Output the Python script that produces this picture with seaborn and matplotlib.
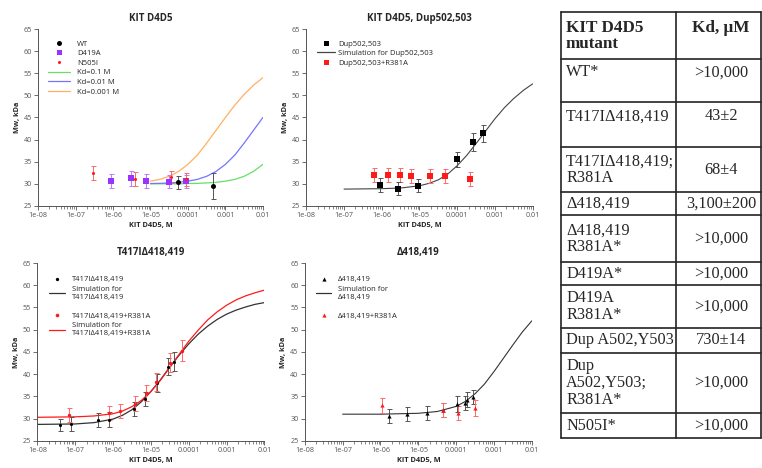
import numpy as np
import pandas as pd
import seaborn as sns
import matplotlib
matplotlib.use("Agg")
import matplotlib.pyplot as plt
from matplotlib.lines import Line2D
from matplotlib.ticker import LogLocator, NullFormatter

# axes ticks
x_ticks = [1e-8, 1e-7, 1e-6, 1e-5, 1e-4, 1e-3, 1e-2]
x_ticklabels = ["1e-08", "1e-07", "1e-06", "1e-05", "0.0001", "0.001", "0.01"]
y_ticks = [25, 30, 35, 40, 45, 50, 55, 60, 65]

# panel 1 : KIT D4D5 (WT, D419A, N505I + simulated Kd curves)
wt_conc = [5.5e-5, 4.6e-4]
wt_mw = [30.3, 29.5]
wt_err = [1.5, 3.0]
d419a_conc = [8.7e-7, 3.0e-6, 7.6e-6, 3.1e-5, 8.7e-5]
d419a_mw = [30.7, 31.2, 30.7, 30.5, 30.6]
d419a_err = [1.6, 1.6, 1.6, 1.5, 1.5]
n505i_conc = [3.0e-7, 3.9e-6, 3.5e-5, 8.7e-5]
n505i_mw = [32.4, 31.1, 31.5, 31.0]
n505i_err = [1.6, 1.6, 1.4, 1.5]
kd_sim_conc = [1e-5, 1.78e-5, 3.16e-5, 5.62e-5, 1e-4, 1.78e-4, 3.16e-4,
               5.62e-4, 1e-3, 1.78e-3, 3.16e-3, 5.62e-3, 1e-2]
kd_01_mw = [30.0, 30.0, 30.0, 30.0, 30.06, 30.1, 30.2, 30.33, 30.6, 31.0, 31.7, 32.8, 34.4]
kd_001_mw = [30.06, 30.1, 30.2, 30.33, 30.6, 31.0, 31.7, 32.8, 34.4, 36.5, 39.2, 42.1, 45.0]
kd_0001_mw = [30.6, 31.0, 31.7, 32.8, 34.4, 36.5, 39.2, 42.1, 45.0, 47.8, 50.2, 52.3, 54.0]

# panel 2 : Dup502,503
dup_conc = [8.9e-7, 2.7e-6, 9.2e-6, 9.6e-5, 2.6e-4, 4.9e-4]
dup_mw = [29.7, 28.9, 29.6, 35.5, 39.4, 41.4]
dup_err = [1.5, 1.5, 1.5, 1.8, 2.0, 2.0]
dup_r381a_conc = [6.1e-7, 1.5e-6, 3.1e-6, 6.1e-6, 1.85e-5, 4.7e-5, 2.2e-4]
dup_r381a_mw = [31.9, 32.0, 31.9, 31.8, 31.8, 31.8, 31.1]
dup_r381a_err = [1.6, 1.6, 1.6, 1.6, 1.6, 1.6, 1.6]
dup_sim_conc = [1e-7, 1e-6, 3.16e-6, 1e-5, 1.78e-5, 3.16e-5, 5.62e-5, 1e-4, 1.78e-4,
                3.16e-4, 5.62e-4, 1e-3, 1.78e-3, 3.16e-3, 5.62e-3, 1e-2]
dup_sim_mw = [28.8, 28.9, 29.05, 29.55, 30.1, 30.9, 32.2, 34.1, 36.4,
              39.1, 41.9, 44.7, 47.2, 49.3, 51.1, 52.6]

# panel 3 : T417IΔ418,419
t417_conc = [3.9e-8, 7.7e-8, 3.9e-7, 7.6e-7, 3.6e-6, 7.1e-6, 1.44e-5, 2.8e-5, 4.0e-5]
t417_mw = [28.6, 28.8, 29.7, 29.8, 32.2, 34.5, 38.0, 41.7, 42.8]
t417_err = [1.4, 1.5, 1.5, 1.6, 1.5, 1.6, 2.0, 2.0, 2.2]
t417_r381a_conc = [6.7e-8, 7.6e-7, 1.55e-6, 3.9e-6, 7.6e-6, 1.4e-5, 3.3e-5, 6.6e-5]
t417_r381a_mw = [30.8, 31.3, 31.8, 33.4, 35.7, 38.2, 42.6, 45.3]
t417_r381a_err = [1.6, 1.6, 1.6, 1.6, 1.8, 2.0, 2.2, 2.3]
t417_sim_conc = [1e-8, 1e-7, 3.16e-7, 1e-6, 1.78e-6, 3.16e-6, 5.62e-6, 1e-5, 1.78e-5, 3.16e-5,
                 5.62e-5, 1e-4, 1.78e-4, 3.16e-4, 5.62e-4, 1e-3, 1.78e-3, 3.16e-3, 5.62e-3, 1e-2]
t417_sim_mw = [28.7, 28.8, 29.1, 29.9, 30.75, 32.0, 33.8, 36.1, 38.7, 41.6,
               44.3, 46.8, 49.0, 50.8, 52.3, 53.5, 54.4, 55.1, 55.7, 56.1]
t417_r381a_sim_mw = [30.3, 30.4, 30.6, 31.1, 31.7, 32.7, 34.1, 36.1, 38.6, 41.5,
                     44.5, 47.4, 49.9, 52.2, 54.0, 55.5, 56.7, 57.6, 58.3, 58.9]

# panel 4 : Δ418,419
del_conc = [1.7e-6, 4.9e-6, 1.7e-5, 4.6e-5, 1.07e-4, 1.7e-4, 1.95e-4, 2.7e-4]
del_mw = [30.6, 31.1, 31.2, 32.0, 33.3, 33.6, 34.3, 34.9]
del_err = [1.5, 1.6, 1.6, 1.6, 1.8, 1.6, 1.6, 1.6]
del_r381a_conc = [1.1e-6, 4.4e-5, 1.1e-4, 3.1e-4]
del_r381a_mw = [33.0, 32.0, 31.3, 32.4]
del_r381a_err = [1.7, 1.6, 1.6, 1.7]
del_sim_conc = [1e-7, 1e-6, 1e-5, 3.16e-5, 1e-4, 1.78e-4, 3.16e-4, 5.62e-4,
                1e-3, 1.78e-3, 3.16e-3, 5.62e-3, 1e-2]
del_sim_mw = [31.0, 31.0, 31.2, 31.6, 32.75, 33.9, 35.6, 37.8, 40.6, 43.6, 46.6, 49.5, 52.0]

# table
table_header = ["KIT D4D5\nmutant", "Kd, μM\n"]
table_mutant = ["WT*\n", "T417IΔ418,419\n", "T417IΔ418,419;\nR381A", "Δ418,419",
                "Δ418,419\nR381A*", "D419A*", "D419A\nR381A*", "Dup A502,Y503",
                "Dup\nA502,Y503;\nR381A*", "N505I*"]
table_kd = [">10,000\n", "43±2\n", "68±4", "3,100±200", ">10,000", ">10,000",
            ">10,000", "730±14", ">10,000", ">10,000"]

sns.set_style("ticks")
plt.rcParams['font.family'] = ['Open Sans', 'DejaVu Sans']

PURPLE = '#9a33ff'
GREEN = '#66e066'
BLUE = '#7474ff'
ORANGE = '#ffb061'
RED = '#ff1a1a'
AXC = '#555555'

fig = plt.figure(figsize=(7.62, 4.68), dpi=100)


def style_axis(ax, title):
    ax.set_xscale('log')
    ax.set_xlim(1e-8, 1e-2)
    ax.set_ylim(25, 65)
    ax.set_xticks(x_ticks)
    ax.set_xticklabels(x_ticklabels)
    ax.xaxis.set_minor_locator(LogLocator(base=10, subs=np.arange(2, 10)))
    ax.xaxis.set_minor_formatter(NullFormatter())
    ax.set_yticks(y_ticks)
    ax.tick_params(which='major', labelsize=5.2, colors=AXC, length=3, width=0.6, pad=1.5)
    ax.tick_params(which='minor', colors=AXC, length=1.8, width=0.5)
    for s in ['top', 'right']:
        ax.spines[s].set_visible(False)
    for s in ['left', 'bottom']:
        ax.spines[s].set_color(AXC)
        ax.spines[s].set_linewidth(0.7)
    ax.set_title(title, fontsize=7, fontweight='bold', pad=6)
    ax.set_xlabel('KIT D4D5, M', fontsize=5.3, fontweight='bold', labelpad=2)
    ax.set_ylabel('Mw, kDa', fontsize=5.3, fontweight='bold', labelpad=2)


def draw_points(ax, conc, mw, err, marker, color, ecolor, size):
    ax.errorbar(conc, mw, yerr=err, fmt='none', ecolor=ecolor, elinewidth=0.7,
                capsize=1.8, capthick=0.7, zorder=3)
    sns.scatterplot(x=conc, y=mw, ax=ax, marker=marker, color=color, s=size,
                    linewidth=0, zorder=4, legend=False)


def draw_curve(ax, conc, mw, color, lw=0.9):
    df = pd.DataFrame({'conc': conc, 'mw': mw})
    sns.lineplot(data=df, x='conc', y='mw', ax=ax, color=color, lw=lw, zorder=2)


def mk(marker, color, ms):
    return Line2D([], [], ls='none', marker=marker, color=color, ms=ms, mew=0)


def ln(color):
    return Line2D([], [], color=color, lw=0.9)


blank = Line2D([], [], ls='none')

# --- table (drawn first, behind) ---
tax = fig.add_axes([0, 0, 1, 1])
tax.set_xlim(0, 762)
tax.set_ylim(468, 0)
tax.axis('off')
row_edges = [12, 59, 102, 147, 192, 215, 262, 285, 328, 353, 413, 438]
col_edges = [561, 676, 761]
for y in row_edges:
    tax.plot([col_edges[0], col_edges[-1]], [y, y], color='#222222', lw=1.2)
for x in col_edges:
    tax.plot([x, x], [row_edges[0], row_edges[-1]], color='#222222', lw=1.2)
rows = [table_header] + list(zip(table_mutant, table_kd))
for i, (m, k) in enumerate(rows):
    yc = (row_edges[i] + row_edges[i + 1]) / 2
    if i == 0:
        tfont = dict(family='Liberation Serif', fontsize=12.3, linespacing=1.0, fontweight='bold')
    else:
        tfont = dict(family='Liberation Serif', fontsize=11.7, linespacing=1.05)
    tax.text(col_edges[0] + 5, yc, m, ha='left', va='center', **tfont)
    tax.text(721, yc, k, ha='center', va='center', **tfont)

# --- panel 1 ---
ax1 = fig.add_axes([0.050, 0.560, 0.295, 0.378])
draw_curve(ax1, kd_sim_conc, kd_01_mw, GREEN)
draw_curve(ax1, kd_sim_conc, kd_001_mw, BLUE)
draw_curve(ax1, kd_sim_conc, kd_0001_mw, ORANGE)
draw_points(ax1, d419a_conc, d419a_mw, d419a_err, 's', PURPLE, '#b77dff', 16)
draw_points(ax1, n505i_conc, n505i_mw, n505i_err, 'o', RED, '#ff6a6a', 5)
draw_points(ax1, wt_conc, wt_mw, wt_err, 'o', 'black', '#555555', 13)
style_axis(ax1, 'KIT D4D5')
ax1.legend([mk('o', 'black', 3.6), mk('s', PURPLE, 3.6), mk('o', RED, 2.2),
            ln(GREEN), ln(BLUE), ln(ORANGE)],
           ['WT', 'D419A', 'N505I', 'Kd=0.1 M', 'Kd=0.01 M', 'Kd=0.001 M'],
           loc='upper left', bbox_to_anchor=(0.045, 0.937), frameon=False,
           fontsize=5.5, handlelength=2.9, handletextpad=0.9, labelspacing=0.3,
           borderpad=0, borderaxespad=0)

# --- panel 2 ---
ax2 = fig.add_axes([0.402, 0.560, 0.297, 0.378])
draw_curve(ax2, dup_sim_conc, dup_sim_mw, '#444444', lw=0.8)
draw_points(ax2, dup_r381a_conc, dup_r381a_mw, dup_r381a_err, 's', RED, '#ff6a6a', 15)
draw_points(ax2, dup_conc, dup_mw, dup_err, 's', 'black', '#555555', 15)
style_axis(ax2, 'KIT D4D5, Dup502,503')
ax2.legend([mk('s', 'black', 3.6), ln('#444444'), mk('s', RED, 3.6)],
           ['Dup502,503', 'Simulation for Dup502,503', 'Dup502,503+R381A'],
           loc='upper left', bbox_to_anchor=(0.047, 0.937), frameon=False,
           fontsize=5.5, handlelength=2.3, handletextpad=0.5, labelspacing=0.3,
           borderpad=0, borderaxespad=0)

# --- panel 3 ---
ax3 = fig.add_axes([0.049, 0.058, 0.298, 0.380])
draw_curve(ax3, t417_sim_conc, t417_sim_mw, '#333333')
draw_curve(ax3, t417_sim_conc, t417_r381a_sim_mw, RED)
draw_points(ax3, t417_conc, t417_mw, t417_err, 'o', 'black', '#555555', 5)
draw_points(ax3, t417_r381a_conc, t417_r381a_mw, t417_r381a_err, 'o', RED, '#ff6a6a', 6)
style_axis(ax3, 'T417IΔ418,419')
ax3.legend([mk('o', 'black', 2.4), ln('#333333'), blank, mk('o', RED, 2.6), ln(RED)],
           ['T417IΔ418,419', 'Simulation for\nT417IΔ418,419', ' ',
            'T417IΔ418,419+R381A', 'Simulation for\nT417IΔ418,419+R381A'],
           loc='upper left', bbox_to_anchor=(0.05, 0.927), frameon=False,
           fontsize=5.5, handlelength=2.2, handletextpad=0.8, labelspacing=0.3,
           borderpad=0, borderaxespad=0)

# --- panel 4 ---
ax4 = fig.add_axes([0.400, 0.058, 0.298, 0.380])
draw_curve(ax4, del_sim_conc, del_sim_mw, '#333333', lw=0.8)
draw_points(ax4, del_conc, del_mw, del_err, '^', 'black', '#555555', 9)
draw_points(ax4, del_r381a_conc, del_r381a_mw, del_r381a_err, '^', RED, '#ff6a6a', 9)
style_axis(ax4, 'Δ418,419')
ax4.legend([mk('^', 'black', 3), ln('#333333'), blank, mk('^', RED, 3)],
           ['Δ418,419', 'Simulation for\nΔ418,419', ' ', 'Δ418,419+R381A'],
           loc='upper left', bbox_to_anchor=(0.05, 0.927), frameon=False,
           fontsize=5.5, handlelength=2.0, handletextpad=0.8, labelspacing=0.3,
           borderpad=0, borderaxespad=0)

fig.savefig('out.png', dpi=100)
